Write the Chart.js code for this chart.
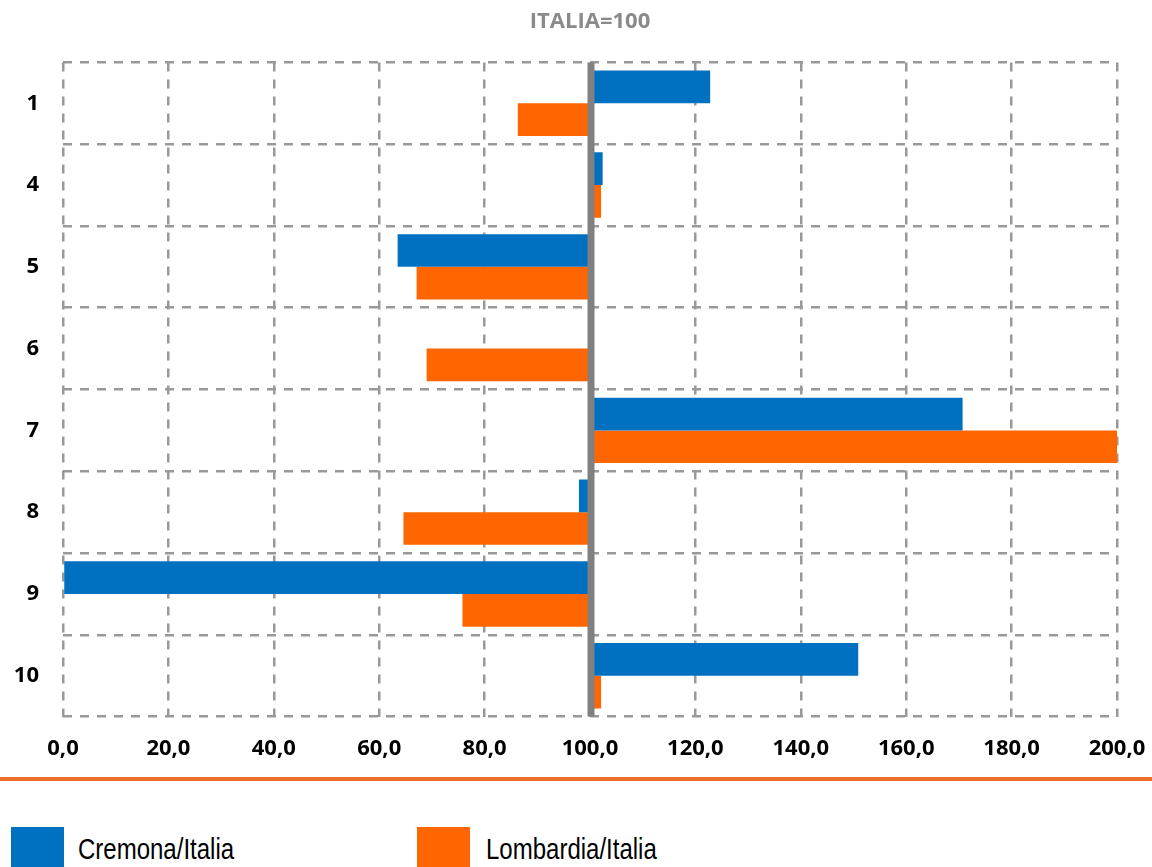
<!DOCTYPE html>
<html>
<head>
<meta charset="utf-8">
<script src="https://cdn.jsdelivr.net/npm/chart.js@4.4.1/dist/chart.umd.min.js"></script>
<style>
  html, body { margin: 0; padding: 0; background: #ffffff; overflow: hidden; }
  #wrap { position: relative; width: 1152px; height: 867px; }
  #chartBox { position: absolute; left: 0; top: 0; width: 1152px; height: 781px; }
  #rule { position: absolute; left: 0; top: 777px; width: 1152px; height: 4px; background: #EC6E2A; }
  .lg-box { position: absolute; top: 827px; width: 53px; height: 40px; }
  .lg-txt { position: absolute; top: 834px; font-family: "Liberation Sans", Arial, sans-serif; font-size: 30px; line-height: 30px; color: #000; white-space: nowrap; transform: scaleX(0.8); transform-origin: 0 0; }
</style>
</head>
<body>
<div id="wrap">
  <div id="chartBox"><canvas id="c"></canvas></div>
  <div id="rule"></div>
  <div class="lg-box" style="left:11px;background:#0070C0;"></div>
  <div class="lg-txt" id="lg1" style="left:78px;"></div>
  <div class="lg-box" style="left:417px;background:#FF6600;"></div>
  <div class="lg-txt" id="lg2" style="left:486px;"></div>
</div>
<script>
const titleText = 'ITALIA=100';
const categories = ['1', '4', '5', '6', '7', '8', '9', '10'];
const seriesNames = ['Cremona/Italia', 'Lombardia/Italia'];
const cremona = [122.8, 102.4, 63.5, null, 170.7, 97.9, 0.0, 150.9];
const lombardia = [86.3, 102.1, 67.1, 69.0, 200.0, 64.6, 75.8, 102.1];
const baseValue = 100;
const xMin = 0, xMax = 200, xStep = 20;

document.getElementById('lg1').textContent = seriesNames[0];
document.getElementById('lg2').textContent = seriesNames[1];

const toFloating = arr => arr.map(v => v == null ? null : [baseValue, v]);

const refLine = {
  id: 'refLine',
  afterDatasetsDraw(chart) {
    const { ctx, chartArea, scales } = chart;
    const x = scales.x.getPixelForValue(baseValue) + 1;
    ctx.save();
    ctx.strokeStyle = '#808080';
    ctx.lineWidth = 7;
    ctx.beginPath();
    ctx.moveTo(x, chartArea.top);
    ctx.lineTo(x, chartArea.bottom);
    ctx.stroke();
    ctx.restore();
  }
};

const tickFont = { family: '"Open Sans"', size: 22, weight: 'bold' };

new Chart(document.getElementById('c'), {
  type: 'bar',
  data: {
    labels: categories,
    datasets: [
      { label: seriesNames[0], data: toFloating(cremona), backgroundColor: '#0070C0', borderWidth: 0 },
      { label: seriesNames[1], data: toFloating(lombardia), backgroundColor: '#FF6600', borderWidth: 0 }
    ]
  },
  options: {
    indexAxis: 'y',
    responsive: true,
    maintainAspectRatio: false,
    animation: false,
    layout: { padding: { left: 0, right: 35, top: 0, bottom: 0 } },
    datasets: { bar: { categoryPercentage: 0.8, barPercentage: 1.0 } },
    plugins: {
      legend: { display: false },
      tooltip: { enabled: false },
      title: {
        display: true,
        fullSize: false,
        text: titleText,
        color: '#8A8A8A',
        font: { family: '"Open Sans"', size: 22, weight: 'bold' },
        padding: { top: 9, bottom: 27 }
      }
    },
    scales: {
      x: {
        min: xMin, max: xMax,
        afterFit(scale) { scale.paddingLeft = 0; scale.paddingRight = 0; },
        ticks: {
          stepSize: xStep,
          color: '#000',
          font: tickFont,
          padding: 19,
          callback: v => v.toFixed(1).replace('.', ',')
        },
        grid: { color: '#999999', lineWidth: 2.5, drawTicks: false },
        border: { display: false, dash: [9, 8] }
      },
      y: {
        afterFit(scale) { scale.width = 63; },
        ticks: {
          color: '#000',
          font: tickFont,
          padding: 24
        },
        grid: { color: '#999999', lineWidth: 2.5, drawTicks: false, offset: true },
        border: { display: false, dash: [9, 8] }
      }
    }
  },
  plugins: [refLine]
});
</script>
</body>
</html>
